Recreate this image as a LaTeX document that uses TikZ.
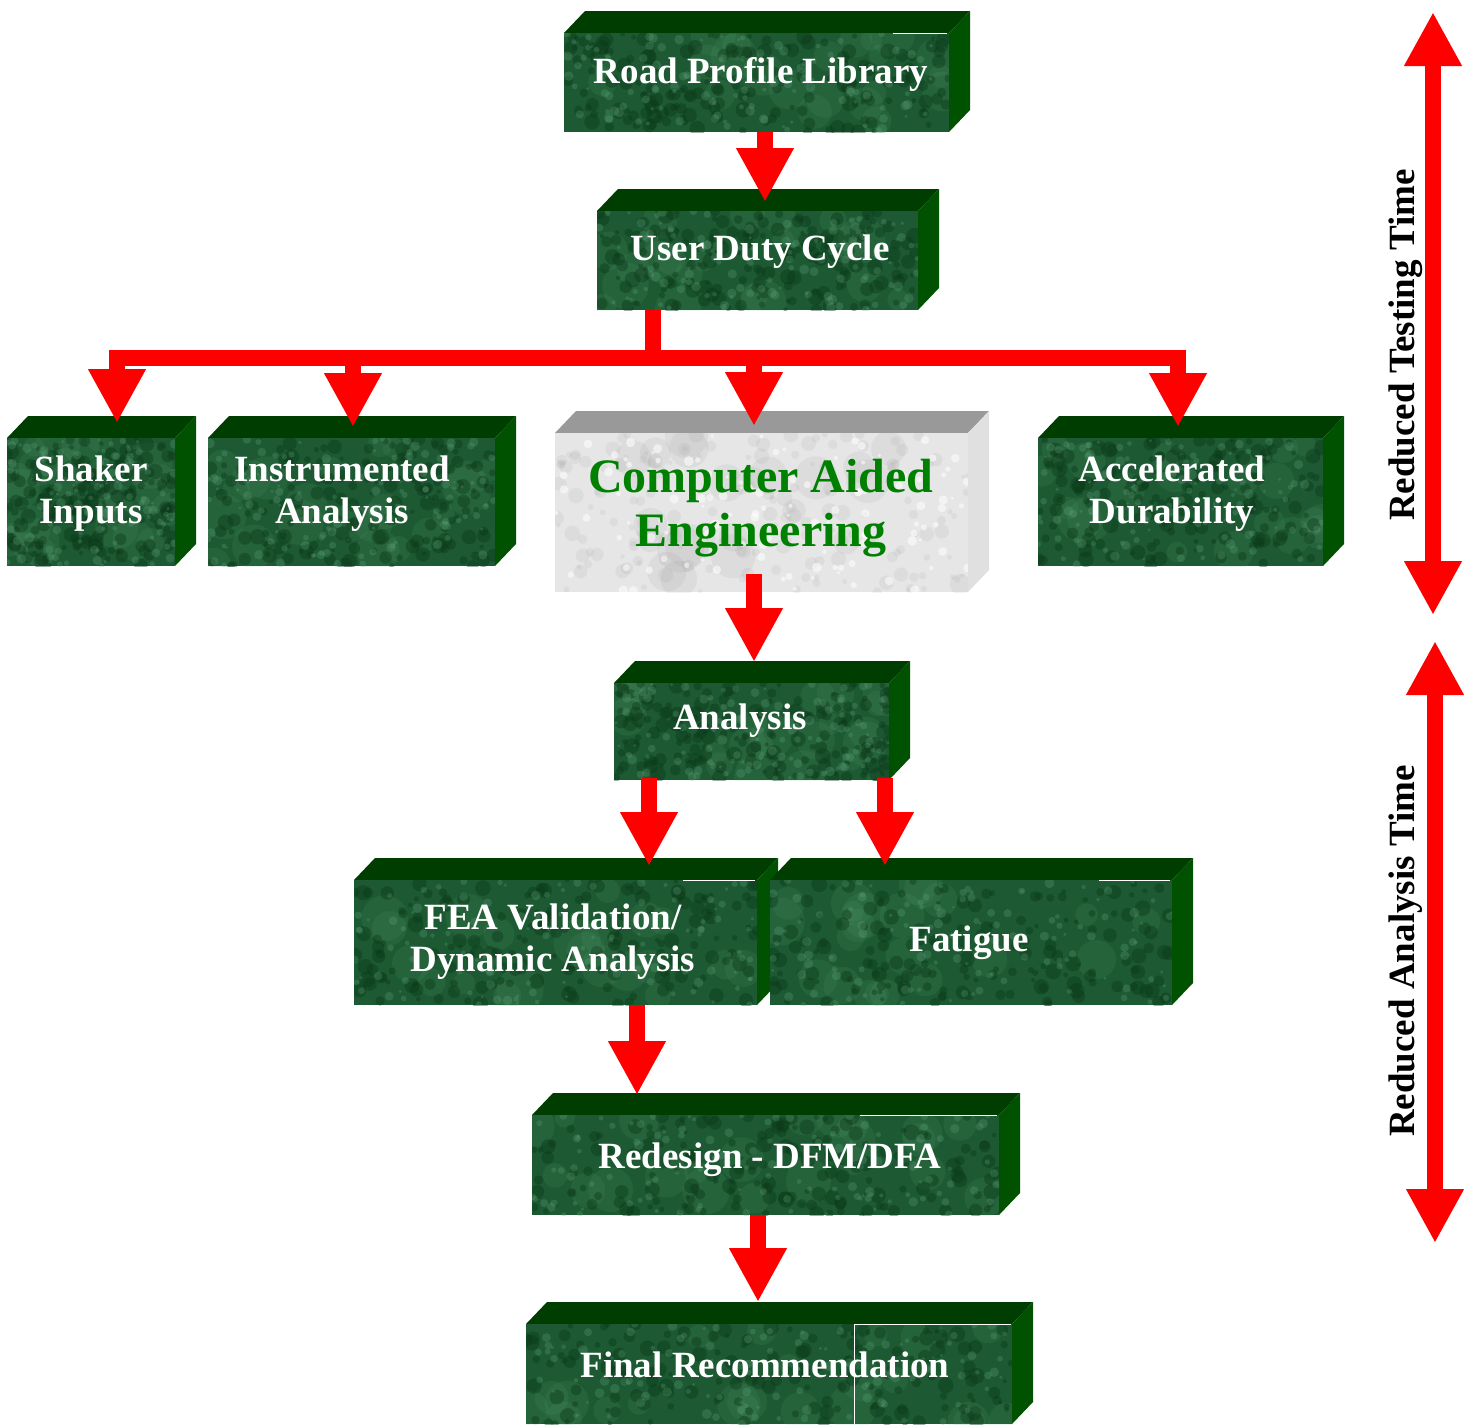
\documentclass[tikz,border=0pt]{standalone}
\usepackage{fontspec}
\setmainfont{Liberation Serif}
\usetikzlibrary{arrows.meta,calc}
\definecolor{arrowred}{HTML}{FF0000}
\definecolor{g-top}{HTML}{003D00}
\definecolor{g-side}{HTML}{005200}
\definecolor{g-face}{HTML}{1D5A33}
\definecolor{g-dark}{HTML}{0A3818}
\definecolor{g-light}{HTML}{62A57C}
\definecolor{caegreen}{HTML}{008000}
\definecolor{w-top}{HTML}{999999}
\definecolor{w-side}{HTML}{E0E0E0}
\definecolor{w-face}{HTML}{E6E6E6}
\definecolor{w-dark}{HTML}{8C8C8C}
\definecolor{w-light}{HTML}{FFFFFF}
\tikzset{
  face/.style={draw=none, inner sep=0pt, outer sep=0pt, rectangle},
  boxtext/.style={text=white, font=\bfseries\fontsize{37}{42}\selectfont, align=center, inner sep=0pt},
  caetext/.style={text=caegreen, font=\bfseries\fontsize{48}{54}\selectfont, align=center, inner sep=0pt},
  sidetext/.style={text=black, font=\bfseries\fontsize{37}{42}\selectfont, rotate=90, inner sep=0pt},
  bigtip/.tip={Triangle[length=54pt,width=54pt]},
  fat/.style={draw=arrowred, line width=16pt, -bigtip},
  fatboth/.style={draw=arrowred, line width=16pt, bigtip-bigtip, line join=miter},
  fatline/.style={draw=arrowred, line width=16pt, line join=miter},
  seam/.style={draw=white, line width=1pt},
  g-big/.style={fill=g-light, opacity=0.12},
  g-spot/.style={fill=g-dark, opacity=0.4},
  g-fleck/.style={fill=g-light, opacity=0.28},
  w-big/.style={fill=w-dark, opacity=0.10},
  w-spot/.style={fill=w-dark, opacity=0.10},
  w-fleck/.style={fill=w-light, opacity=0.55},
}
% \marblebox{name}{x0}{y0}{x1}{y1}{colour prefix}
\newcommand\marblebox[6]{%
  \fill[#6-top] (#2,#3) -- ++(21,-22) -- ({#4+21},{#3-22}) -- (#4,#3) -- cycle;
  \fill[#6-side] (#4,#3) -- ({#4+21},{#3-22}) -- ({#4+21},{#5-22}) -- (#4,#5) -- cycle;
  \node[face, fill=#6-face, minimum width={(#4-#2)*1pt}, minimum height={(#5-#3)*1pt}] (#1) at ({(#2+#4)/2},{(#3+#5)/2}) {};
  \begin{scope}
    \clip (#1.south west) rectangle (#1.north east);
    \foreach \k in {1,...,22}{
      \fill[#6-big] ({#2+rnd*(#4-#2)},{#3+rnd*(#5-#3)}) circle[radius={10+14*rnd}];
    }
    \foreach \k in {1,...,170}{
      \fill[#6-spot] ({#2+rnd*(#4-#2)},{#3+rnd*(#5-#3)}) circle[radius={2+6*rnd}];
    }
    \foreach \k in {1,...,120}{
      \fill[#6-fleck] ({#2+rnd*(#4-#2)},{#3+rnd*(#5-#3)}) circle[radius={1.5+3.5*rnd}];
    }
  \end{scope}
}
\begin{document}
\begin{tikzpicture}[x=1pt,y=-1pt]
\pgfmathsetseed{4711}
\useasboundingbox (0,0) rectangle (1469,1424);
\fill[white] (0,0) rectangle (1469,1424);

% boxes
\marblebox{road}{564}{33}{949}{132}{g}
\marblebox{user}{597}{211}{918}{310}{g}
\marblebox{shaker}{7}{438}{175}{566}{g}
\marblebox{instr}{208}{438}{495}{566}{g}
\marblebox{cae}{555}{433}{968}{592}{w}
\marblebox{accel}{1038}{438}{1323}{566}{g}
\marblebox{anal}{614}{683}{889}{780}{g}
\marblebox{fea}{354}{880}{757}{1005}{g}
\marblebox{fatig}{770}{880}{1172}{1005}{g}
\marblebox{redes}{532}{1115}{999}{1215}{g}
\marblebox{final}{526}{1324}{1012}{1424}{g}

% texture seams
\draw[seam] (893,33) -- (947,33);
\draw[seam] (683,880) -- (755,880);
\draw[seam] (1099,880) -- (1170,880);
\draw[seam] (860,1115) -- (997,1115);
\draw[seam] (854,1424) -- (854,1324) -- (1011,1324);

% texts (anchor=base is the baseline of the last line)
\node[boxtext, anchor=base] (road-t) at (761,83) {Road Profile Library};
\node[boxtext, anchor=base] (user-t) at (760,260) {User Duty Cycle};
\node[boxtext, anchor=base] (shaker-t) at (91,523) {Shaker\\Inputs};
\node[boxtext, anchor=base] (instr-t) at (342,523) {Instrumented\\Analysis};
\node[caetext, anchor=base] (cae-t) at (761,546) {Computer Aided\\Engineering};
\node[boxtext, anchor=base] (accel-t) at (1172,523) {Accelerated\\Durability};
\node[boxtext, anchor=base] (anal-t) at (740,729) {Analysis};
\node[boxtext, anchor=base] (fea-t) at (553,971) {FEA Validation/\\Dynamic Analysis};
\node[boxtext, anchor=base] (fatig-t) at (969,951) {Fatigue};
\node[boxtext, anchor=base] (redes-t) at (770,1168) {Redesign - DFM/DFA};
\node[boxtext, anchor=base] (final-t) at (765,1377) {Final Recommendation};

% arrow columns
\coordinate (c-road) at (765,0);
\coordinate (c-user) at (653,0);
\coordinate (c-shaker) at (117,0);
\coordinate (c-instr) at (353,0);
\coordinate (c-cae) at (754,0);
\coordinate (c-accel) at (1178,0);
\coordinate (c-fea) at (649,0);
\coordinate (c-fatig) at (885,0);
\coordinate (c-redes) at (637,0);
\coordinate (c-final) at (758,0);
\coordinate (bar) at (0,358);

% connectors
\draw[fat] (road.south -| c-road) -- ([yshift=9pt]user.north -| c-road);
\draw[fatline] (user.south -| c-user) -- (bar -| c-user);
\draw[fatboth] ([yshift=15pt]shaker.north -| c-shaker) |- (bar -| c-accel) -- ([yshift=11pt]accel.north -| c-accel);
\draw[fat] (bar -| c-instr) -- ([yshift=11pt]instr.north -| c-instr);
\draw[fat] (bar -| c-cae) -- ([yshift=7pt]cae.north -| c-cae);
\draw[fat] ([yshift=18pt]cae.south -| c-cae) -- ([yshift=21pt]anal.north -| c-cae);
\draw[fat] ([yshift=2pt]anal.south -| c-fea) -- ([yshift=14pt]fea.north -| c-fea);
\draw[fat] ([yshift=2pt]anal.south -| c-fatig) -- ([yshift=14pt]fatig.north -| c-fatig);
\draw[fat] (fea.south -| c-redes) -- ([yshift=20pt]redes.north -| c-redes);
\draw[fat] (redes.south -| c-final) -- ([yshift=22pt]final.north -| c-final);

% side arrows and labels
\coordinate (tt-top) at (1433,12);
\coordinate (tt-bot) at (1433,615);
\coordinate (at-top) at (1435,641);
\coordinate (at-bot) at (1435,1243);
\draw[fatboth] (tt-top) -- (tt-bot);
\draw[fatboth] (at-top) -- (at-bot);
\node[sidetext, anchor=base] (testing) at (1414,345) {Reduced Testing Time};
\node[sidetext, anchor=base] (analysis) at (1414,951) {Reduced Analysis Time};
\end{tikzpicture}
\end{document}
